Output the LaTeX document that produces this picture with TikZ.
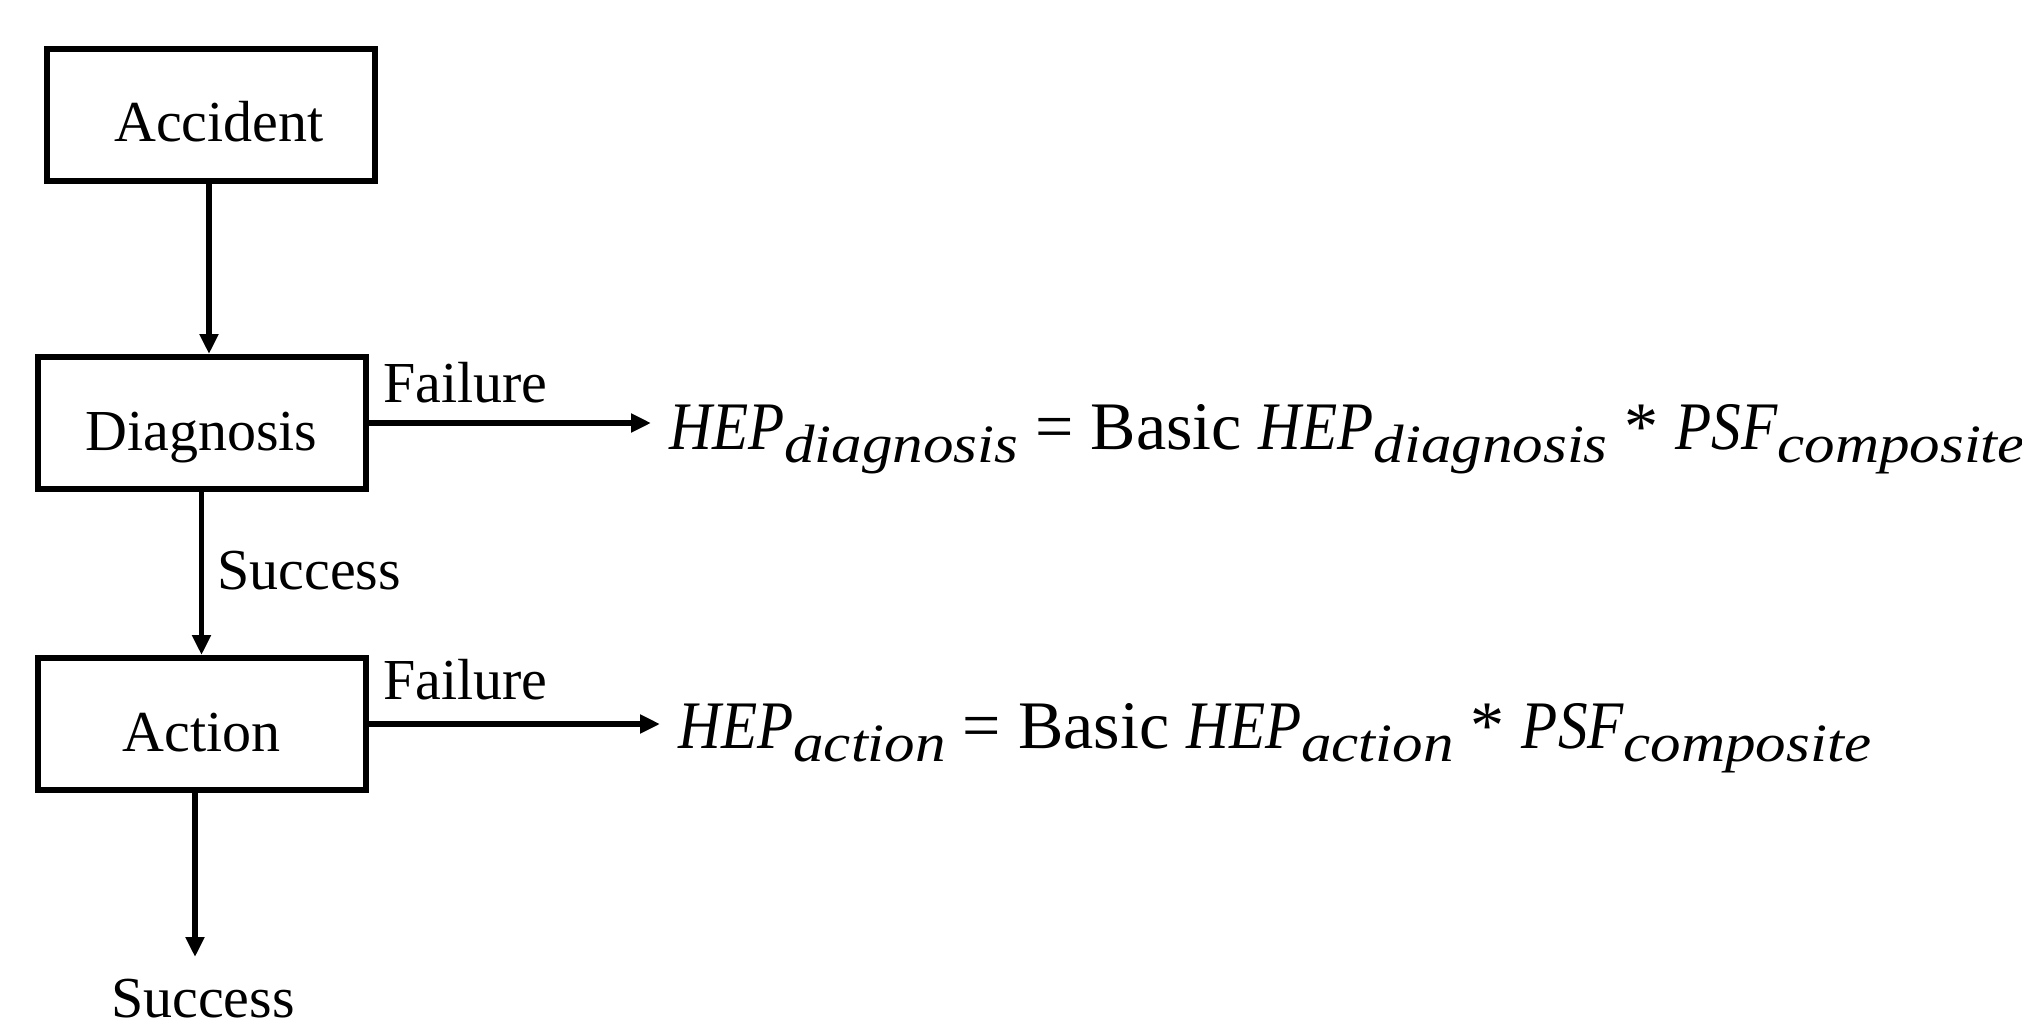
\documentclass[tikz,border=0pt]{standalone}
\usepackage{fontspec}
\setmainfont{Liberation Serif}
\usetikzlibrary{arrows.meta}
\newcommand{\lbsub}[1]{\raisebox{-0.2em}{\fontsize{27}{30}\selectfont\scalebox{1.13}[1]{\itshape #1}}}
\newcommand{\lbcap}[1]{\scalebox{0.87}[1]{\itshape #1}}
\begin{document}
\begin{tikzpicture}[x=0.5pt,y=-0.5pt,
  stepbox/.style={draw,line width=3pt,minimum width=164pt,minimum height=66pt,inner sep=0pt,text height=27pt,text depth=0pt,font=\fontsize{29}{34}\selectfont},
  lbl/.style={inner sep=0pt,anchor=west,font=\fontsize{29}{34}\selectfont},
  eqn/.style={inner ysep=0pt,inner xsep=9pt,anchor=base west,font=\fontsize{34}{38}\selectfont},
  conn/.style={line width=2.6pt,-{Triangle[length=10pt,width=9pt]}}]
\useasboundingbox (0,0) rectangle (2022,1027);
\node[stepbox] (acc) at (211,115) {\hspace*{8pt}Accident};
\node[stepbox] (diag) at (201.5,423) {Diagnosis};
\node[stepbox] (act) at (201.5,724) {Action};
\node[eqn] (eq1) at (651,449) {\lbcap{HEP}\lbsub{diagnosis} = Basic \lbcap{HEP}\lbsub{diagnosis} * \lbcap{PSF}\lbsub{composite}};
\node[eqn] (eq2) at (660,748) {\lbcap{HEP}\lbsub{action} = Basic \lbcap{HEP}\lbsub{action} * \lbcap{PSF}\lbsub{composite}};
\node[lbl] (f1) at (383,383) {Failure};
\node[lbl] (f2) at (383,680) {Failure};
\node[lbl] (s1) at (217,571) {Success};
\node[inner sep=0pt,font=\fontsize{29}{34}\selectfont] (s2) at (203,999) {Success};
\coordinate (endpt) at (195,957);
\draw[conn] (acc.south -| 209,0) -- (diag.north -| 209,0);
\draw[conn] (diag.south) -- (act.north);
\draw[conn] (act.south -| endpt) -- (endpt);
\draw[conn] (diag.east) -- (diag.east -| eq1.west);
\draw[conn] (act.east) -- (act.east -| eq2.west);
\end{tikzpicture}
\end{document}
